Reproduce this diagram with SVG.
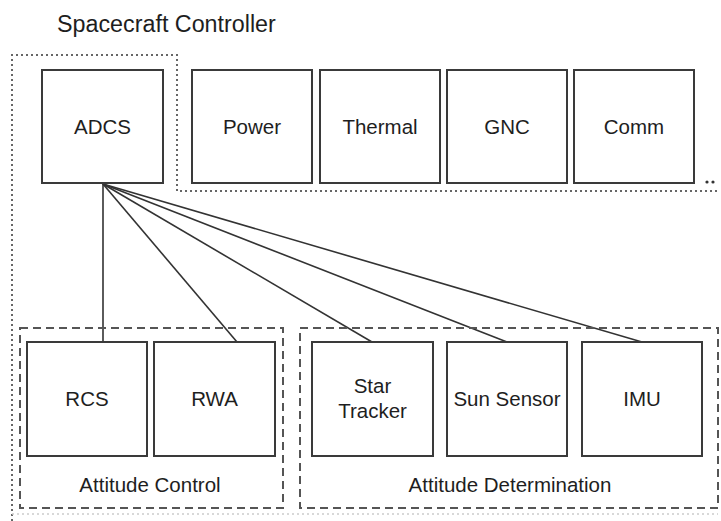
<svg xmlns="http://www.w3.org/2000/svg" width="721" height="521" viewBox="0 0 721 521">
  <style>
    .box { fill: #ffffff; stroke: #3a3a3a; stroke-width: 2; }
    .lbl { font-family: "Liberation Sans", Arial, sans-serif; font-size: 20.5px; fill: #1e1e1e; text-anchor: middle; }
    .title { font-family: "Liberation Sans", Arial, sans-serif; font-size: 23.3px; fill: #1e1e1e; }
    .dotted { fill: none; stroke: #666; stroke-width: 2; stroke-dasharray: 2 3; }
    .dashed { fill: none; stroke: #555; stroke-width: 2; stroke-dasharray: 8 5; }
    .link { fill: none; stroke: #333; stroke-width: 1.6; }
  </style>
  <rect width="721" height="521" fill="#ffffff"/>

  <text class="title" x="57" y="32">Spacecraft Controller</text>

  <!-- controller boundary -->
  <g id="controller-boundary">
    <path class="dotted" d="M12,521 V55 H177 V191 H718"/>
    <path d="M12,514 H718" fill="none" stroke="#ccc" stroke-width="1.5" stroke-dasharray="2 3"/>
    <circle cx="707" cy="182" r="1.6" fill="#333"/>
    <circle cx="713" cy="182" r="1.6" fill="#333"/>
  </g>

  <!-- connectors -->
  <g id="connectors">
    <line class="link" x1="103" y1="184" x2="103" y2="342"/>
    <line class="link" x1="103" y1="184" x2="237" y2="342"/>
    <line class="link" x1="103" y1="184" x2="372" y2="342"/>
    <line class="link" x1="103" y1="184" x2="507" y2="342"/>
    <line class="link" x1="103" y1="184" x2="642" y2="342"/>
  </g>

  <g id="adcs">
    <rect class="box" x="42" y="70" width="121" height="113"/>
    <text class="lbl" x="102.5" y="133.5">ADCS</text>
  </g>
  <g id="power">
    <rect class="box" x="192" y="70" width="120" height="113"/>
    <text class="lbl" x="252" y="133.5">Power</text>
  </g>
  <g id="thermal">
    <rect class="box" x="320" y="70" width="120" height="113"/>
    <text class="lbl" x="380" y="133.5">Thermal</text>
  </g>
  <g id="gnc">
    <rect class="box" x="447" y="70" width="120" height="113"/>
    <text class="lbl" x="507" y="133.5">GNC</text>
  </g>
  <g id="comm">
    <rect class="box" x="574" y="70" width="120" height="113"/>
    <text class="lbl" x="634" y="133.5">Comm</text>
  </g>

  <g id="attitude-control">
    <rect class="dashed" x="20" y="328" width="263" height="180"/>
    <text class="lbl" x="150" y="492">Attitude Control</text>
  </g>
  <g id="rcs">
    <rect class="box" x="27" y="342" width="120" height="114"/>
    <text class="lbl" x="87" y="405.5">RCS</text>
  </g>
  <g id="rwa">
    <rect class="box" x="154" y="342" width="121" height="114"/>
    <text class="lbl" x="214.5" y="405.5">RWA</text>
  </g>

  <g id="attitude-determination">
    <rect class="dashed" x="300" y="328" width="418" height="180"/>
    <text class="lbl" x="510" y="492">Attitude Determination</text>
  </g>
  <g id="star-tracker">
    <rect class="box" x="312" y="342" width="121" height="114"/>
    <text class="lbl" x="372.5" y="392.5">Star</text>
    <text class="lbl" x="372.5" y="417.5">Tracker</text>
  </g>
  <g id="sun-sensor">
    <rect class="box" x="447" y="342" width="120" height="114"/>
    <text class="lbl" x="507" y="405.5">Sun Sensor</text>
  </g>
  <g id="imu">
    <rect class="box" x="582" y="342" width="120" height="114"/>
    <text class="lbl" x="642" y="405.5">IMU</text>
  </g>
</svg>
